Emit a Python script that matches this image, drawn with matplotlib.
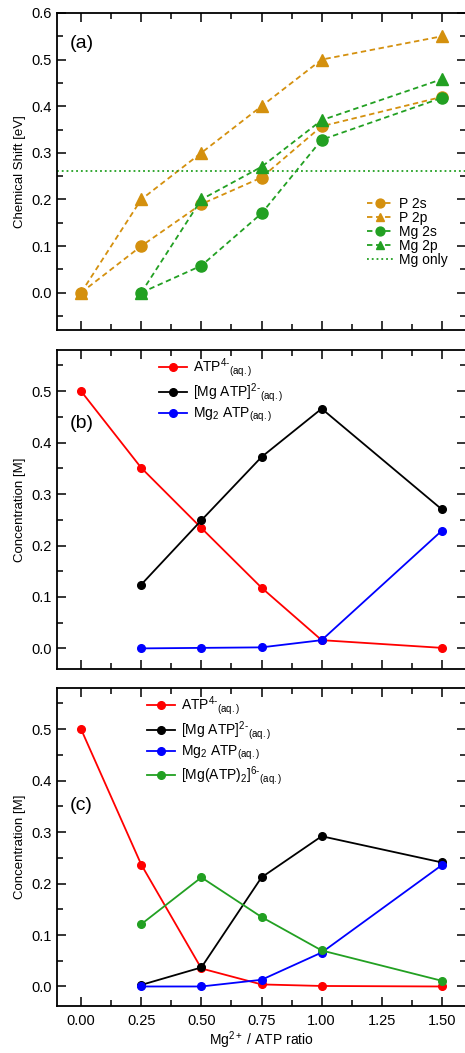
import matplotlib
matplotlib.use('Agg')
import matplotlib.pyplot as plt
from matplotlib.ticker import MultipleLocator, FormatStrFormatter

plt.rcParams['font.family'] = ['Liberation Sans', 'DejaVu Sans']
plt.rcParams['mathtext.fontset'] = 'custom'
plt.rcParams['mathtext.rm'] = 'Liberation Sans'
plt.rcParams['mathtext.it'] = 'Liberation Sans'

# ---- data ----
ratio = [0.0, 0.25, 0.5, 0.75, 1.0, 1.5]
ratio_mg = [0.25, 0.5, 0.75, 1.0, 1.5]

# (a) chemical shift [eV]
p2s = [0.0, 0.10, 0.19, 0.247, 0.357, 0.42]
p2p = [0.0, 0.20, 0.30, 0.40, 0.50, 0.55]
mg2s = [0.0, 0.058, 0.17, 0.328, 0.418]
mg2p = [0.0, 0.20, 0.27, 0.37, 0.458]
mg_only = 0.262

# (b) concentrations [M]
b_atp = [0.50, 0.351, 0.234, 0.118, 0.016, 0.001]
b_mgatp = [0.124, 0.249, 0.372, 0.466, 0.270]
b_mg2atp = [0.0, 0.001, 0.002, 0.016, 0.229]

# (c) concentrations [M]
c_atp = [0.50, 0.237, 0.035, 0.004, 0.001, 0.0]
c_mgatp = [0.003, 0.037, 0.212, 0.292, 0.241]
c_mg2atp = [0.0, 0.0, 0.013, 0.066, 0.236]
c_mgatp2 = [0.121, 0.212, 0.135, 0.070, 0.011]

orange = '#D4900E'
green = '#22A022'

lbl_atp = r'ATP$^{\mathregular{4\text{-}}}$$_{\mathregular{(aq.)}}$'
lbl_mgatp = r'[Mg ATP]$^{\mathregular{2\text{-}}}$$_{\mathregular{(aq.)}}$'
lbl_mg2atp = r'Mg$_{\mathregular{2}}$ ATP$_{\mathregular{(aq.)}}$'
lbl_mgatp2 = r'[Mg(ATP)$_{\mathregular{2}}$]$^{\mathregular{6\text{-}}}$$_{\mathregular{(aq.)}}$'

fig = plt.figure(figsize=(4.65, 10.53), dpi=100)
L, W = 0.1226, 0.8796
ax1 = fig.add_axes([L, 0.6866, W, 0.3011])
ax2 = fig.add_axes([L, 0.3647, W, 0.3029])
ax3 = fig.add_axes([L, 0.0446, W, 0.3020])


def style(ax):
    ax.set_xlim(-0.1, 1.6)
    ax.xaxis.set_major_locator(MultipleLocator(0.25))
    ax.xaxis.set_minor_locator(MultipleLocator(0.125))
    ax.yaxis.set_major_locator(MultipleLocator(0.1))
    ax.yaxis.set_minor_locator(MultipleLocator(0.05))
    ax.tick_params(which='both', direction='in', top=True, right=True, labelsize=10.5)
    ax.tick_params(which='major', length=6.5, width=1.1)
    ax.tick_params(which='minor', length=4, width=1.1)
    for s in ax.spines.values():
        s.set_linewidth(1.3)


# (a)
style(ax1)
ax1.plot(ratio, p2s, ls='--', dashes=(3, 2), color=orange, marker='o', ms=8, lw=1.3, label='P 2s')
ax1.plot(ratio, p2p, ls='--', dashes=(3, 2), color=orange, marker='^', ms=8, lw=1.3, label='P 2p')
ax1.plot(ratio_mg, mg2s, ls='--', dashes=(3, 2), color=green, marker='o', ms=8, lw=1.3, label='Mg 2s')
ax1.plot(ratio_mg, mg2p, ls='--', dashes=(3, 2), color=green, marker='^', ms=8, lw=1.3, label='Mg 2p')
ax1.axhline(mg_only, ls=':', color=green, lw=1.3, label='Mg only')
ax1.set_ylim(-0.08, 0.6)
ax1.set_ylabel('Chemical Shift [eV]', fontsize=9.5)
ax1.tick_params(labelbottom=False)
ax1.text(0.03, 0.93, '(a)', transform=ax1.transAxes, fontsize=14, va='top')
ax1.legend(loc='center right', bbox_to_anchor=(0.985, 0.31), frameon=False, fontsize=10,
           handlelength=1.9, handletextpad=0.4, labelspacing=0.0, markerscale=0.8)

# (b)
style(ax2)
ax2.plot(ratio, b_atp, color='red', marker='o', ms=5.5, lw=1.3, label=lbl_atp)
ax2.plot(ratio_mg, b_mgatp, color='black', marker='o', ms=5.5, lw=1.3, label=lbl_mgatp)
ax2.plot(ratio_mg, b_mg2atp, color='blue', marker='o', ms=5.5, lw=1.3, label=lbl_mg2atp)
ax2.set_ylim(-0.04, 0.58)
ax2.set_ylabel('Concentration [M]', fontsize=9.5)
ax2.tick_params(labelbottom=False)
ax2.text(0.03, 0.77, '(b)', transform=ax2.transAxes, fontsize=14, va='center')
ax2.legend(loc='upper left', bbox_to_anchor=(0.22, 1.02), frameon=False, fontsize=10,
           handlelength=2.0, handletextpad=0.4, labelspacing=0.15)

# (c)
style(ax3)
ax3.plot(ratio, c_atp, color='red', marker='o', ms=5.5, lw=1.3, label=lbl_atp)
ax3.plot(ratio_mg, c_mgatp, color='black', marker='o', ms=5.5, lw=1.3, label=lbl_mgatp)
ax3.plot(ratio_mg, c_mg2atp, color='blue', marker='o', ms=5.5, lw=1.3, label=lbl_mg2atp)
ax3.plot(ratio_mg, c_mgatp2, color=green, marker='o', ms=5.5, lw=1.3, label=lbl_mgatp2)
ax3.set_ylim(-0.038, 0.58)
ax3.set_ylabel('Concentration [M]', fontsize=9.5)
ax3.set_xlabel(r'Mg$^{\mathregular{2+}}$ / ATP ratio', fontsize=10, labelpad=1)
ax3.xaxis.set_major_formatter(FormatStrFormatter('%.2f'))
ax3.tick_params(axis='x', pad=6)
ax3.text(0.03, 0.63, '(c)', transform=ax3.transAxes, fontsize=14, va='center')
ax3.legend(loc='upper left', bbox_to_anchor=(0.19, 1.02), frameon=False, fontsize=10,
           handlelength=2.0, handletextpad=0.4, labelspacing=0.15)

fig.savefig('out.png', dpi=100)
